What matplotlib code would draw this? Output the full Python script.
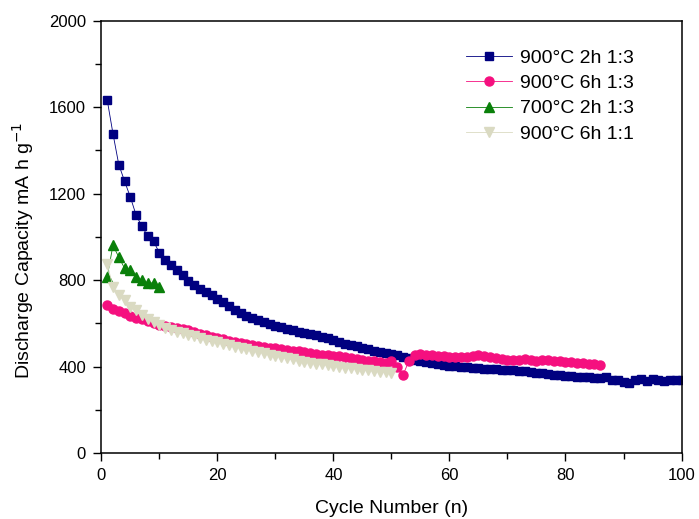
import matplotlib.pyplot as plt
import numpy as np

plt.rcParams['font.family'] = ['Liberation Sans', 'DejaVu Sans']

# 900°C 2h 1:3 (ciclos 1-100)
cap_900_2h = [1635, 1478, 1335, 1258, 1184, 1100, 1049, 1003, 979, 927,
              892, 868, 845, 822, 795, 776, 761, 745, 730, 715,
              697, 680, 660, 648, 636, 625, 614, 605, 596, 588,
              582, 576, 568, 562, 556, 550, 545, 538, 531, 522,
              514, 506, 499, 494, 488, 482, 474, 467, 462, 458,
              452, 446, 440, 432, 425, 420, 417, 412, 408, 404,
              401, 399, 397, 395, 393, 391, 389, 387, 385, 386,
              384, 381, 378, 375, 372, 369, 366, 362, 360, 358,
              356, 354, 352, 350, 348, 346, 350, 338, 336, 328,
              323, 338, 345, 333, 345, 338, 334, 340, 336, 337]

# 900°C 6h 1:3 (ciclos 1-86)
cap_900_6h = [684, 668, 655, 647, 636, 624, 618, 610, 600, 594,
              588, 582, 578, 572, 568, 560, 552, 545, 538, 532,
              526, 520, 514, 508, 503, 498, 494, 490, 487, 484,
              482, 478, 474, 470, 466, 462, 458, 455, 453, 450,
              447, 443, 440, 436, 432, 428, 424, 420, 418, 428,
              400, 362, 425, 452, 458, 455, 452, 450, 447, 445,
              444, 443, 446, 449, 452, 448, 444, 440, 436, 432,
              430, 432, 434, 430, 428, 430, 432, 428, 425, 422,
              420, 418, 416, 413, 410, 407]

# 700°C 2h 1:3 (ciclos 1-10)
cap_700_2h = [815, 961, 907, 855, 845, 815, 799, 787, 787, 768]

# 900°C 6h 1:1 (ciclos 1-50)
cap_900_6h_11 = [876, 768, 730, 707, 676, 661, 638, 622, 607, 591,
                 580, 570, 562, 555, 548, 540, 532, 525, 518, 512,
                 505, 498, 492, 486, 480, 474, 468, 462, 456, 450,
                 444, 438, 433, 428, 423, 418, 414, 410, 406, 402,
                 398, 395, 392, 389, 386, 383, 380, 377, 374, 371]

labels = ['900°C 2h 1:3', '900°C 6h 1:3', '700°C 2h 1:3', '900°C 6h 1:1']

fig = plt.figure(figsize=(6.99, 5.19), dpi=100)
ax = fig.add_axes([0.145, 0.127, 0.83, 0.833])

series = [cap_900_2h, cap_900_6h, cap_700_2h, cap_900_6h_11]
colors = ['#000080', '#F5107F', '#0A800A', '#DADAC2']
markers = ['s', 'o', '^', 'v']
sizes = [6.3, 6.5, 7.8, 7.8]

for vals, lab, c, m, ms in zip(series, labels, colors, markers, sizes):
    n = np.arange(1, len(vals) + 1)
    ax.plot(n, vals, color=c, lw=0.6, marker=m, ms=ms, mec=c, mfc=c, label=lab)

ax.set_xlim(0, 100)
ax.set_ylim(0, 2000)
ax.set_xticks(np.arange(0, 101, 20))
ax.set_xticks(np.arange(0, 101, 10), minor=True)
ax.set_yticks(np.arange(0, 2001, 400))
ax.set_yticks(np.arange(0, 2001, 200), minor=True)
ax.tick_params(which='major', direction='out', length=6, width=1, labelsize=12, pad=5)
ax.tick_params(which='minor', direction='out', length=4, width=1)
for s in ax.spines.values():
    s.set_linewidth(1.1)

ax.set_xlabel('Cycle Number (n)', fontsize=14, labelpad=12)
ax.set_ylabel('Discharge Capacity mA h g$^{-1}$', fontsize=14)
ax.yaxis.set_label_coords(-0.112, 0.47)

leg = ax.legend(loc='upper left', bbox_to_anchor=(0.598, 0.975), frameon=False,
                fontsize=14, handlelength=2.4, labelspacing=0.4, handletextpad=0.4)

plt.savefig('out.png', dpi=100)
